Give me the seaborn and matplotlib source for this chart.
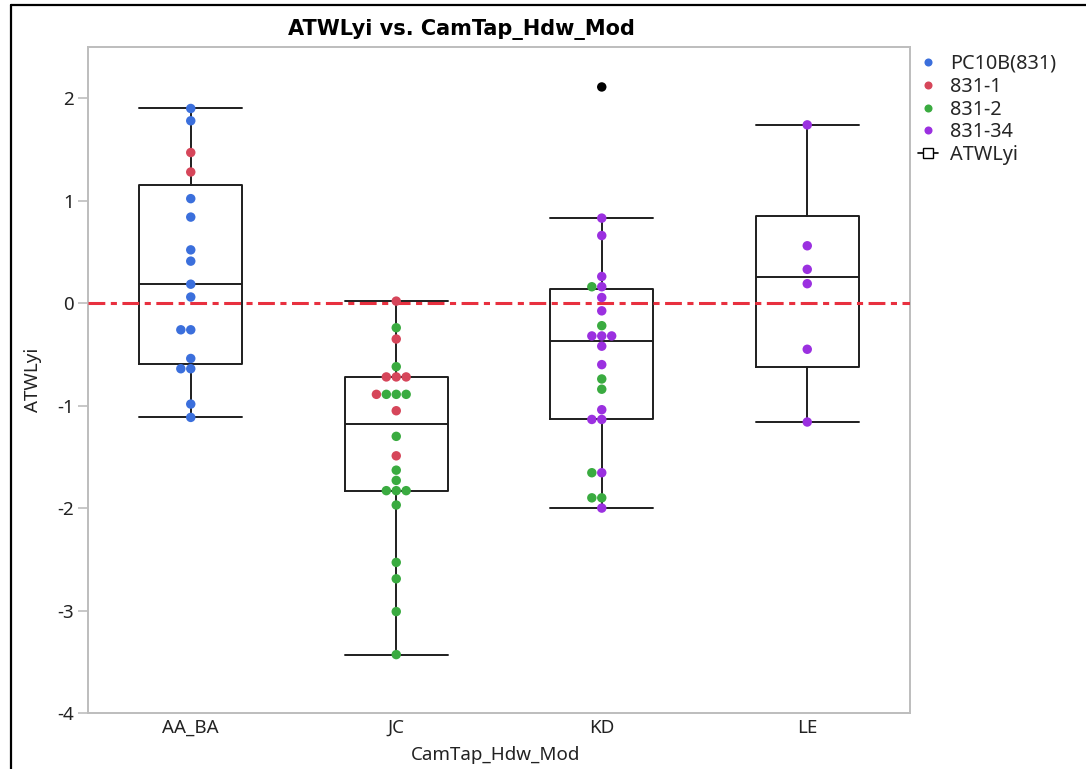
import numpy as np
import pandas as pd
import matplotlib
matplotlib.use("Agg")
import matplotlib.pyplot as plt
import seaborn as sns
from matplotlib.lines import Line2D

# ---------------- data ----------------
categories = ["AA_BA", "JC", "KD", "LE"]
variant_order = ["PC10B(831)", "831-1", "831-2", "831-34"]
variant_colors = ["#3b6fdc", "#d6465a", "#3aab40", "#9b30e0"]
other_label = "other"
other_color = "#000000"

aa_values = [1.90, 1.78, 1.47, 1.28, 1.02, 0.84, 0.52, 0.41, 0.185, 0.06,
             -0.26, -0.26, -0.54, -0.64, -0.64, -0.985, -1.115]
aa_variants = ["PC10B(831)", "PC10B(831)", "831-1", "831-1", "PC10B(831)",
               "PC10B(831)", "PC10B(831)", "PC10B(831)", "PC10B(831)", "PC10B(831)",
               "PC10B(831)", "PC10B(831)", "PC10B(831)", "PC10B(831)", "PC10B(831)",
               "PC10B(831)", "PC10B(831)"]

jc_values = [0.02, -0.24, -0.35, -0.62, -0.72, -0.72, -0.72,
             -0.89, -0.89, -0.89, -0.89, -1.05, -1.30, -1.49, -1.63, -1.73,
             -1.83, -1.83, -1.83, -1.97, -2.53, -2.69, -3.01, -3.43]
jc_variants = ["831-1", "831-2", "831-1", "831-2", "831-1", "831-1", "831-1",
               "831-2", "831-2", "831-1", "831-2", "831-1", "831-2", "831-1", "831-2", "831-2",
               "831-2", "831-2", "831-2", "831-2", "831-2", "831-2", "831-2", "831-2"]

kd_values = [2.11, 0.83, 0.66, 0.26, 0.16, 0.16, 0.055, -0.075, -0.22,
             -0.32, -0.32, -0.32, -0.42, -0.60, -0.74, -0.84, -1.04,
             -1.135, -1.135, -1.655, -1.655, -1.90, -1.90, -2.00]
kd_variants = ["other", "831-34", "831-34", "831-34", "831-34", "831-2", "831-34", "831-34", "831-2",
               "831-34", "831-34", "831-34", "831-34", "831-34", "831-2", "831-2", "831-34",
               "831-34", "831-34", "831-34", "831-2", "831-2", "831-2", "831-34"]

le_values = [1.74, 0.56, 0.33, 0.19, -0.45, -1.16]
le_variants = ["831-34"] * 6

ref_value = 0.0
yticks = [-4, -3, -2, -1, 0, 1, 2]

# ---------------- frame ----------------
df = pd.DataFrame({
    "CamTap_Hdw_Mod": (["AA_BA"] * len(aa_values) + ["JC"] * len(jc_values)
                       + ["KD"] * len(kd_values) + ["LE"] * len(le_values)),
    "ATWLyi": aa_values + jc_values + kd_values + le_values,
    "variant": aa_variants + jc_variants + kd_variants + le_variants,
})

sns.set_theme(style="white")
plt.rcParams["font.family"] = ["Noto Sans", "DejaVu Sans"]
plt.rcParams["axes.unicode_minus"] = False

W, H = 1086, 769
fig = plt.figure(figsize=(W / 100, H / 100), dpi=100)
ax = fig.add_axes([88 / W, 1 - 713 / H, 822 / W, 666 / H])

palette = dict(zip(variant_order, variant_colors))
palette[other_label] = other_color

sns.swarmplot(data=df, x="CamTap_Hdw_Mod", y="ATWLyi", hue="variant",
              order=categories, hue_order=variant_order + [other_label],
              palette=palette, size=6.8, linewidth=0, zorder=4, legend=False, ax=ax)

# JMP-style outlier box plot statistics
stats = []
for cat in categories:
    v = df.loc[df["CamTap_Hdw_Mod"] == cat, "ATWLyi"].to_numpy()
    q1, med, q3 = np.percentile(v, [25, 50, 75], method="weibull")
    iqr = q3 - q1
    lo = v[v >= q1 - 1.5 * iqr].min()
    hi = v[v <= q3 + 1.5 * iqr].max()
    stats.append(dict(med=med, q1=q1, q3=q3, whislo=lo, whishi=hi, fliers=[]))

lc = "#1e1e1e"
lw = 1.4
ax.bxp(stats, positions=list(range(len(categories))), widths=0.5, capwidths=0.5,
       showfliers=False, manage_ticks=False,
       boxprops=dict(color=lc, lw=lw), whiskerprops=dict(color=lc, lw=lw),
       capprops=dict(color=lc, lw=lw), medianprops=dict(color=lc, lw=lw))

ax.axhline(ref_value, color="#e8303f", lw=2.2, ls=(0, (5.5, 1.8, 2, 1.8)), zorder=3)

ax.set_xlim(-0.5, len(categories) - 0.5)
ax.set_ylim(-4, 2.5)
ax.set_yticks(yticks)
ax.set_xticks(range(len(categories)))
ax.set_xticklabels(categories)

for s in ax.spines.values():
    s.set_color("#bdbdbd")
    s.set_linewidth(1.4)
ax.tick_params(axis="y", left=True, length=7, width=1.2, color="#bdbdbd",
               labelsize=13.5, labelcolor="#222222", pad=3)
ax.tick_params(axis="x", bottom=False, length=0, labelsize=13.5, labelcolor="#222222", pad=4)

ax.set_xlabel("CamTap_Hdw_Mod", fontsize=13.5, color="#222222")
ax.set_ylabel("ATWLyi", fontsize=13.5, color="#222222")
ax.xaxis.set_label_coords((496 - 88) / 822, (713 - 755) / 666)
ax.yaxis.set_label_coords((33 - 88) / 822, 0.5)
ax.xaxis.label.set_va("center")
ax.yaxis.label.set_va("center")

fig.text(461 / W, 1 - 29 / H, "ATWLyi vs. CamTap_Hdw_Mod", ha="center", va="center",
         fontsize=15, fontweight="bold", family=["DejaVu Sans"], color="black")

# legend
handles = [Line2D([], [], ls="", marker="o", ms=5.8, color=c, markeredgewidth=0)
           for c in variant_colors]
handles.append(Line2D([], [], color="black", lw=1.2, marker="s", ms=7,
                      markerfacecolor="white", markeredgecolor="black"))
labels = variant_order + ["ATWLyi"]
fig.legend(handles, labels, loc="upper left", bbox_to_anchor=(918 / W, 1 - 54 / H),
           frameon=False, handlelength=1.0, handletextpad=0.6, labelspacing=0.14,
           fontsize=14.3, borderaxespad=0, borderpad=0)

# outer frame (left and top edges of the captured window)
fig.add_artist(Line2D([11 / W, 11 / W], [0, 1 - 5 / H], transform=fig.transFigure,
                      color="black", lw=1.6))
fig.add_artist(Line2D([11 / W, 1], [1 - 5 / H, 1 - 5 / H], transform=fig.transFigure,
                      color="black", lw=1.6))

fig.savefig("out.png", dpi=100)
